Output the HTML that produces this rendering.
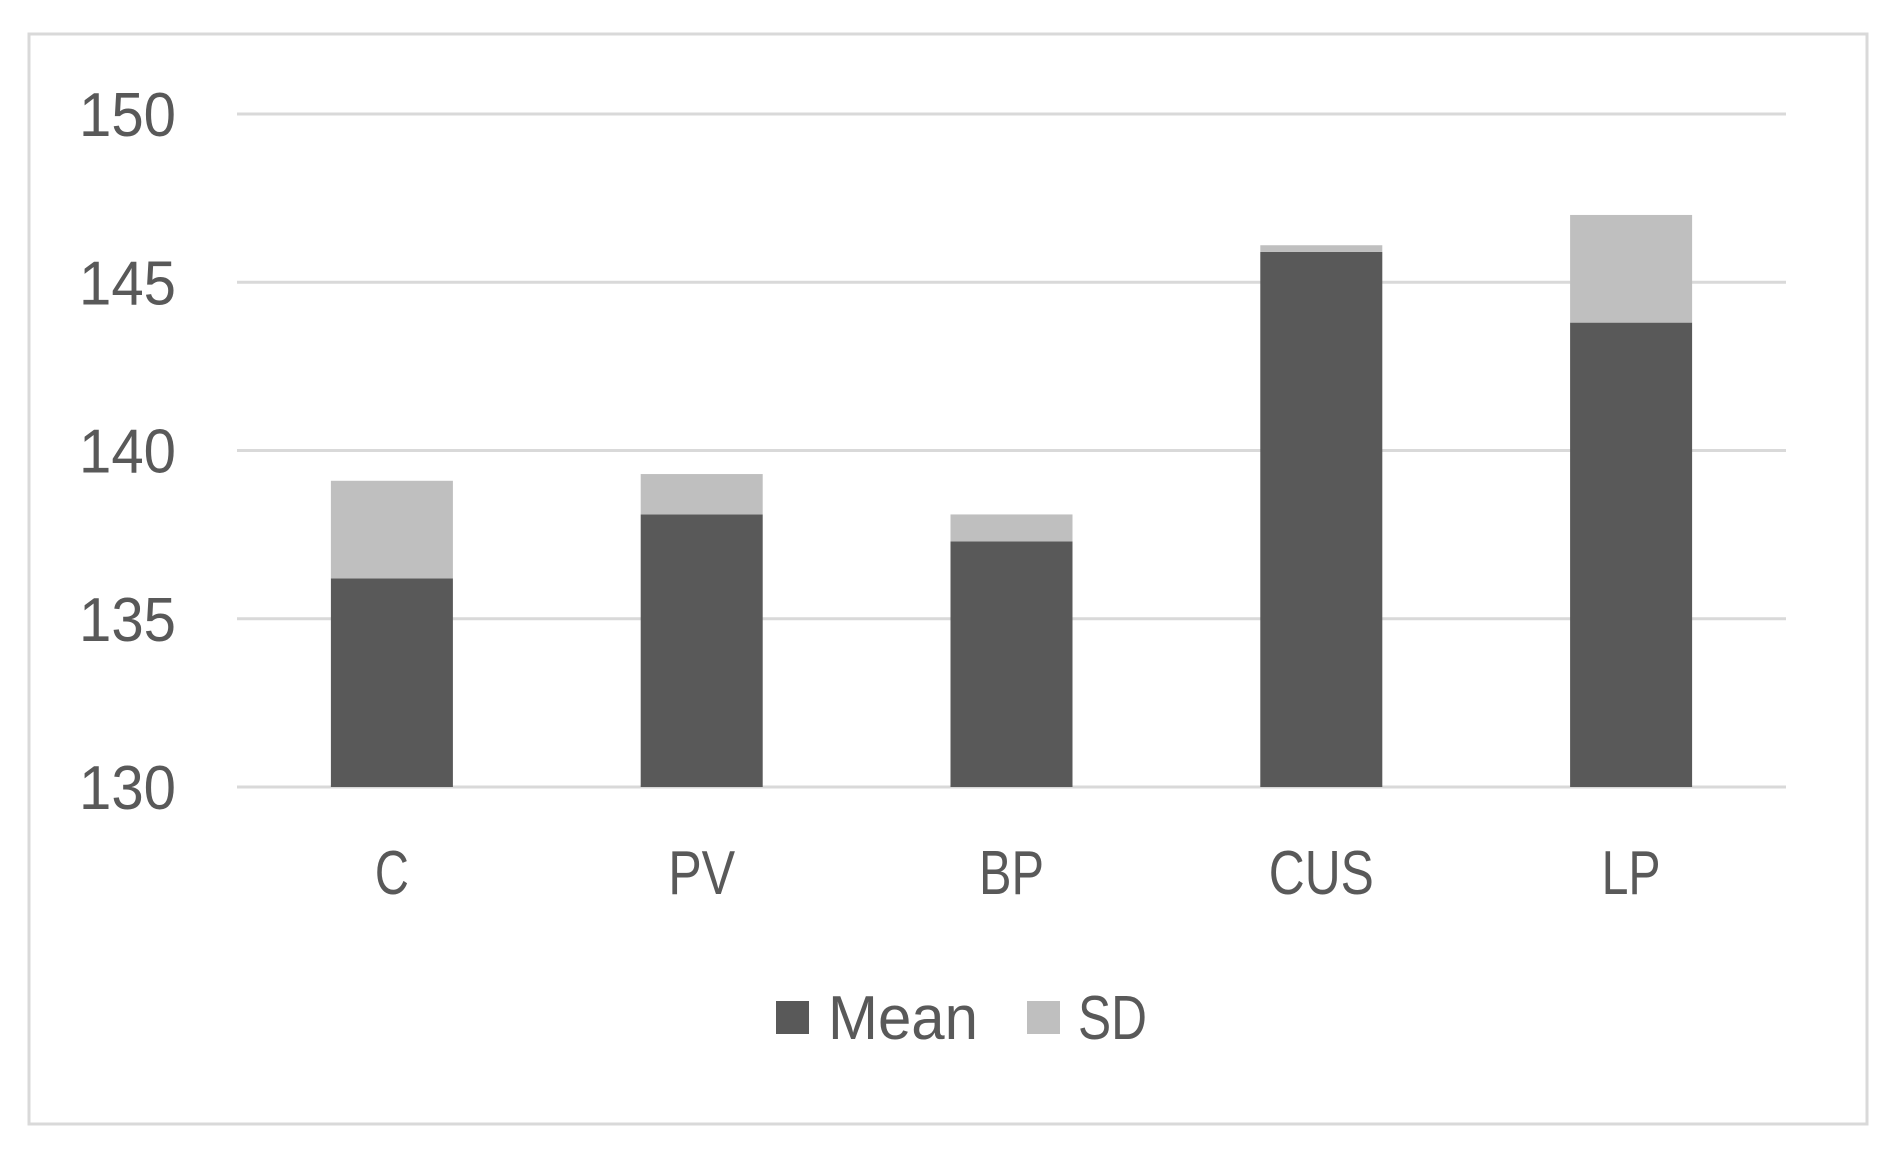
<!DOCTYPE html>
<html><head><meta charset="utf-8"><style>
html,body{margin:0;padding:0;background:#fff;}
svg{display:block;font-family:"Liberation Sans",sans-serif;}
</style></head><body>
<svg id="chart" width="1899" height="1150" viewBox="0 0 1899 1150">
<rect x="29" y="34" width="1838" height="1090" fill="#fff" stroke="#d9d9d9" stroke-width="3"/>
<g id="grid"></g><g id="bars"></g><g id="labels"></g>
<g>
<rect x="776" y="1001" width="33" height="33" fill="#595959"/>
<text x="828" y="1039" font-size="62" fill="#595959" textLength="150" lengthAdjust="spacingAndGlyphs">Mean</text>
<rect x="1027" y="1001" width="33" height="33" fill="#bfbfbf"/>
<text x="1078" y="1039" font-size="62" fill="#595959" textLength="69" lengthAdjust="spacingAndGlyphs">SD</text>
</g>
</svg>
<script>
const categories=["C","PV","BP","CUS","LP"];
const meanValues=[136.2,138.1,137.3,145.9,143.8];
const sdValues=[2.9,1.2,0.8,0.2,3.2];
const yTicks=[130,135,140,145,150];
const NS="http://www.w3.org/2000/svg";
const x0=237,x1=1786,yTop=114,yBot=787,yMin=130,yMax=150;
const y=v=>yBot-(v-yMin)/(yMax-yMin)*(yBot-yTop);
const band=(x1-x0)/categories.length;
const cx=i=>x0+band*(i+0.5);
const bw=122;
const xLabelWidths={C:34,PV:67,BP:65,CUS:105,LP:59};
function mk(t,a){const e=document.createElementNS(NS,t);for(const k in a)e.setAttribute(k,a[k]);return e;}
const grid=document.getElementById('grid'),bars=document.getElementById('bars'),labels=document.getElementById('labels');
yTicks.forEach(v=>{
 const l=mk('line',{x1:x0,x2:x1,y1:y(v),y2:y(v),stroke:'#d9d9d9','stroke-width':3});
 
 
 grid.appendChild(l);
 const t=mk('text',{x:79,y:y(v)+22,'font-size':62,fill:'#595959',textLength:97,lengthAdjust:'spacingAndGlyphs'});
 t.textContent=v;
 
 
 labels.appendChild(t);
});
categories.forEach((c,i)=>{
 const m=mk('rect',{x:cx(i)-bw/2,y:y(meanValues[i]),width:bw,height:y(yMin)-y(meanValues[i]),fill:'#595959'});
 
 
 bars.appendChild(m);
 const top=meanValues[i]+sdValues[i];
 const s=mk('rect',{x:cx(i)-bw/2,y:y(top),width:bw,height:y(meanValues[i])-y(top),fill:'#bfbfbf'});
 
 
 bars.appendChild(s);
 const w=xLabelWidths[c];
 const t=mk('text',{x:cx(i)-w/2,y:894,'font-size':62,fill:'#595959',textLength:w,lengthAdjust:'spacingAndGlyphs'});
 t.textContent=c;
 
 
 labels.appendChild(t);
});
</script>
</body></html>
